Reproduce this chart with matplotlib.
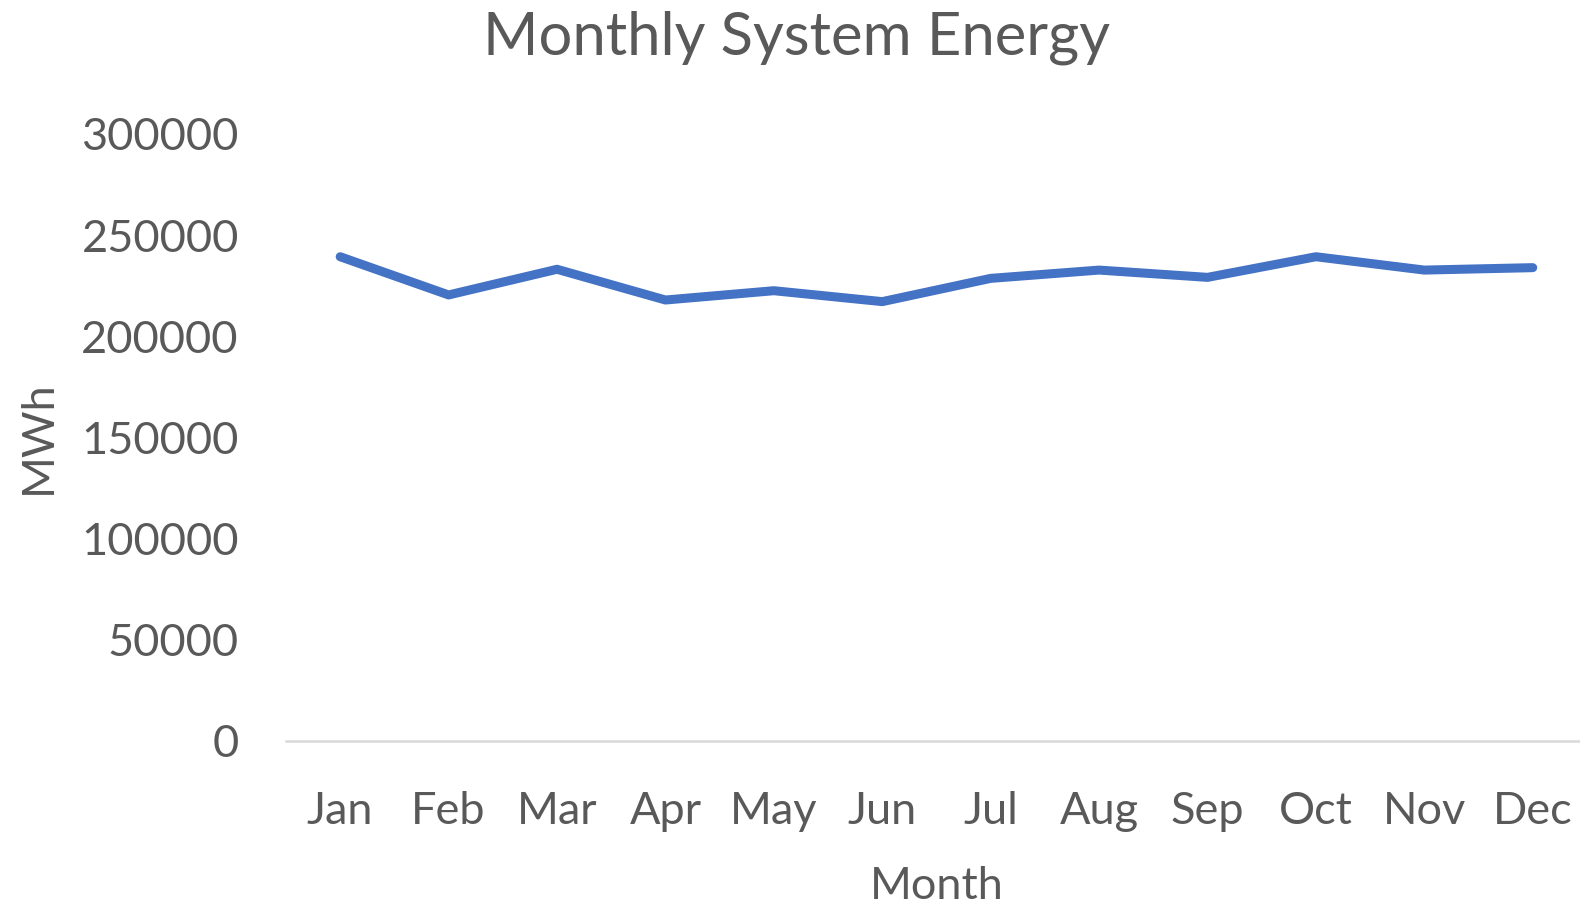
import matplotlib
matplotlib.use("Agg")
import matplotlib.pyplot as plt

# Monthly energy (MWh)
months = ["Jan", "Feb", "Mar", "Apr", "May", "Jun",
          "Jul", "Aug", "Sep", "Oct", "Nov", "Dec"]
energy_mwh = [239300, 220400, 233100, 217900, 222500, 217100,
              228600, 232700, 229100, 239300, 232700, 233900]
y_ticks = [0, 50000, 100000, 150000, 200000, 250000, 300000]

text_color = "#595959"
plt.rcParams["font.family"] = ["Lato", "DejaVu Sans"]

fig = plt.figure(figsize=(15.8, 9.09), dpi=100)
ax = fig.add_axes([0.181, 0.1852, 0.8234, 0.6674])

x = list(range(len(months)))
ax.plot(x, energy_mwh, color="#4472C4", linewidth=6.5,
        solid_capstyle="round", solid_joinstyle="round")

ax.set_xlim(-0.5, len(months) - 0.5)
ax.set_ylim(0, 300000)
ax.set_yticks(y_ticks)
ax.set_yticklabels([str(v) for v in y_ticks])
ax.set_xticks(x)
ax.set_xticklabels(months)

for side in ["top", "right", "left"]:
    ax.spines[side].set_visible(False)
ax.spines["bottom"].set_color("#D9D9D9")
ax.spines["bottom"].set_linewidth(1.8)
ax.spines["bottom"].set_clip_on(False)

ax.tick_params(axis="both", length=0, labelsize=32.5, labelcolor=text_color)
ax.tick_params(axis="y", pad=34)
ax.tick_params(axis="x", pad=36)

ax.set_xlabel("Month", fontsize=32.5, color=text_color, labelpad=25)
ax.set_ylabel("MWh", fontsize=32.5, color=text_color, labelpad=16)
fig.text(0.504, 0.958, "Monthly System Energy", fontsize=43,
         color=text_color, ha="center", va="center")

fig.savefig("out.png", dpi=100)
